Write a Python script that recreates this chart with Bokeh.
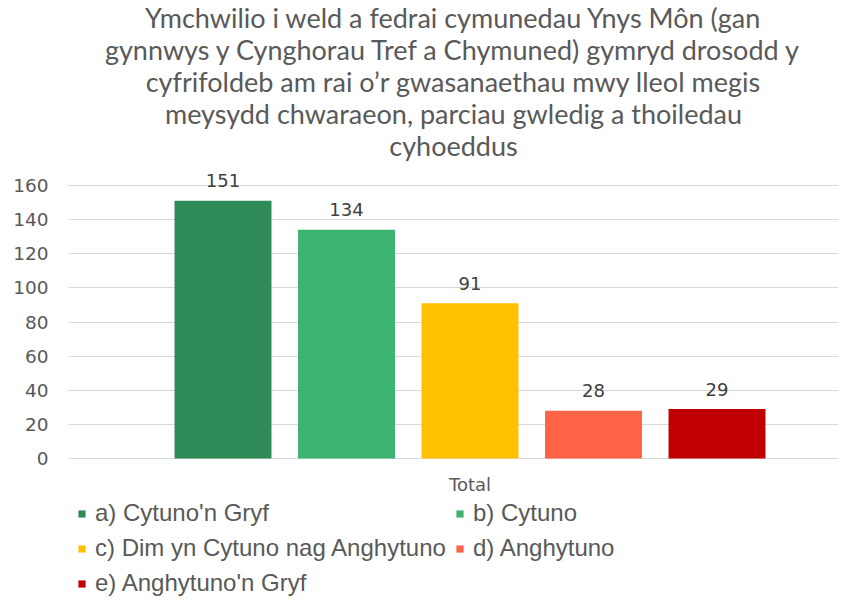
from bokeh.plotting import figure
from bokeh.models import Range1d, FixedTicker, Legend, LegendItem, Title, ColumnDataSource
from bokeh.embed import file_html
from bokeh.resources import INLINE

categories = ["Total"]
series = ["a) Cytuno'n Gryf", "b) Cytuno", "c) Dim yn Cytuno nag Anghytuno", "d) Anghytuno", "e) Anghytuno'n Gryf"]
values = [151, 134, 91, 28, 29]
colors = ["#2e8b57", "#3cb371", "#ffc000", "#ff6347", "#c00000"]
y_ticks = [0, 20, 40, 60, 80, 100, 120, 140, 160]
title_lines = [
    "Ymchwilio i weld a fedrai cymunedau Ynys Môn (gan",
    "gynnwys y Cynghorau Tref a Chymuned) gymryd drosodd y",
    "cyfrifoldeb am rai o\u2019r gwasanaethau mwy lleol megis",
    "meysydd chwaraeon, parciau gwledig a thoiledau",
    "cyhoeddus",
]

GRAY = "#595959"
n = len(values)
xs = [i - (n - 1) / 2 for i in range(n)]

# Layout (pixels): frame from just under the title down to the figure bottom, so that
# the category label and the legend (drawn inside the frame) are not clipped.
FIG_W, FIG_H = 848, 596
LEFT, RIGHT_GAP = 68, 10
FRAME_TOP, TOP_PX, ZERO_PX = 160, 185, 458
px_per_unit = (ZERO_PX - TOP_PX) / 160
y_end = 160 + (TOP_PX - FRAME_TOP) / px_per_unit
y_start = -(FIG_H - ZERO_PX) / px_per_unit
frame_w = FIG_W - LEFT - RIGHT_GAP
bar_pitch = 123.5
center_px = 469.5 - LEFT
x_start = -center_px / bar_pitch
x_end = (frame_w - center_px) / bar_pitch

p = figure(width=FIG_W, height=FIG_H, output_backend="svg", toolbar_location=None,
           x_range=Range1d(x_start, x_end), y_range=Range1d(y_start, y_end),
           x_axis_location=None,
           min_border_left=LEFT, min_border_right=RIGHT_GAP, min_border_top=FRAME_TOP,
           min_border_bottom=0)
p.outline_line_color = None
p.background_fill_color = "white"
p.border_fill_color = "white"

for line in reversed(title_lines):
    t = Title(text=line, align="center", text_font="Lato", text_font_size="27px",
              text_color=GRAY, text_font_style="normal", standoff=-3)
    p.add_layout(t, "above")

src = ColumnDataSource(dict(x=xs, top=values, label=[str(v) for v in values]))
renderers = []
for i in range(n):
    r = p.vbar(x=xs[i], top=values[i], width=0.785, bottom=0, fill_color=colors[i], line_color=None)
    renderers.append(r)

p.text(x="x", y="top", text="label", source=src, text_align="center", text_baseline="middle",
       y_offset=-20, text_font_size="18px", text_color="#404040", text_font={"value": "DejaVu Sans"})

# category label under the bars
p.text(x=[0], y=[0], text=categories, text_align="center", text_baseline="middle",
       y_offset=26, text_font_size="18px", text_color=GRAY, text_font={"value": "DejaVu Sans"})

p.yaxis.ticker = FixedTicker(ticks=y_ticks)
p.yaxis.axis_line_color = None
p.yaxis.major_tick_line_color = None
p.yaxis.minor_tick_line_color = None
p.yaxis.major_tick_out = 0
p.yaxis.major_tick_in = 0
p.yaxis.minor_tick_out = 0
p.yaxis.major_label_standoff = 20
p.yaxis.major_label_text_font = "DejaVu Sans"
p.yaxis.major_label_text_font_size = "18.5px"
p.yaxis.major_label_text_color = GRAY

p.xgrid.grid_line_color = None
p.ygrid.ticker = FixedTicker(ticks=y_ticks)
p.ygrid.grid_line_color = "#d9d9d9"
p.ygrid.grid_line_width = 1

ROW_H = 35
ROW1_Y = 513
frame_h = FIG_H - FRAME_TOP
leg_top = ROW1_Y - ROW_H / 2 - FRAME_TOP

def make_legend(idx, x):
    h = ROW_H * len(idx)
    return Legend(items=[LegendItem(label=series[i], renderers=[renderers[i]]) for i in idx],
                  location=(x, frame_h - leg_top - h), orientation="vertical",
                  border_line_color=None, background_fill_alpha=0,
                  padding=0, margin=0, spacing=0,
                  glyph_width=9, glyph_height=9, label_standoff=9, label_height=ROW_H,
                  label_text_font="Liberation Sans", label_text_font_size="24px",
                  label_text_color=GRAY)

p.add_layout(make_legend([0, 2, 4], 77 - LEFT), "center")
p.add_layout(make_legend([1, 3], 455 - LEFT), "center")

open("out.html", "w").write(file_html(p, INLINE))
